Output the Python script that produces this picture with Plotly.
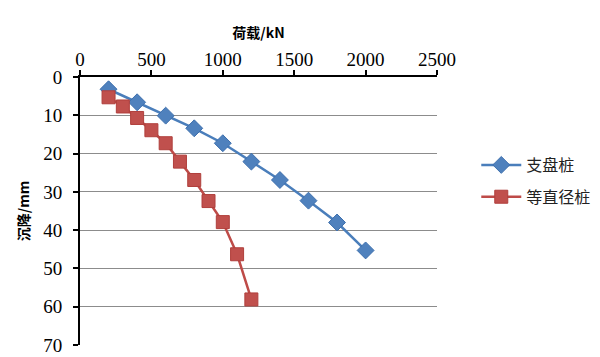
import plotly.graph_objects as go

load_a = [200, 400, 600, 800, 1000, 1200, 1400, 1600, 1800, 2000]
settle_a = [3.2, 6.6, 10.1, 13.4, 17.3, 22.1, 26.9, 32.3, 38.0, 45.3]
load_b = [200, 300, 400, 500, 600, 700, 800, 900, 1000, 1100, 1200]
settle_b = [5.3, 7.7, 10.7, 13.9, 17.3, 22.1, 26.9, 32.4, 37.9, 46.3, 58.1]
name_a = "支盘桩"
name_b = "等直径桩"
x_ticks = [0, 500, 1000, 1500, 2000, 2500]
y_ticks = [0, 10, 20, 30, 40, 50, 60, 70]

serif = "Liberation Serif"

fig = go.Figure()
fig.add_trace(go.Scatter(x=load_a, y=settle_a, name=name_a, mode="lines+markers",
                         legendgroup="a",
                         line=dict(color="#4A7EBB", width=2.5),
                         marker=dict(symbol="diamond", size=13, color="#4F81BD",
                                     line=dict(color="#3D6FAD", width=1))))
fig.add_trace(go.Scatter(x=load_b, y=settle_b, name=name_b, mode="lines+markers",
                         legendgroup="b",
                         line=dict(color="#BE4B48", width=2.5),
                         marker=dict(symbol="square", size=13, color="#C0504D",
                                     line=dict(color="#B03F3C", width=1))))

fig.update_layout(
    width=600, height=357,
    margin=dict(l=72, r=168, t=69, b=20),
    paper_bgcolor="white", plot_bgcolor="white",
    font=dict(family=serif, size=16, color="black"),
    legend=dict(x=1.11, y=0.735, xanchor="left", yanchor="top",
                font=dict(family="Noto Sans CJK SC", size=16, color="#222"),
                itemwidth=40, tracegroupgap=8, bgcolor="rgba(0,0,0,0)"),
    xaxis=dict(side="top", range=[0, 2500], tickvals=x_ticks, automargin=False,
               showgrid=False, zeroline=False,
               showline=True, linecolor="black", linewidth=2,
               ticks="outside", ticklen=5, tickwidth=2, tickcolor="black",
               ticklabelstandoff=-4,
               tickfont=dict(family=serif, size=19, color="black"),
               title=dict(text="<b>荷载/kN</b>", standoff=8,
                          font=dict(family="Noto Sans CJK SC", size=14))),
    yaxis=dict(range=[70, 0], tickvals=y_ticks, automargin=False,
               showgrid=True, gridcolor="#8C8C8C", gridwidth=1, zeroline=False,
               showline=True, linecolor="black", linewidth=2,
               ticks="outside", ticklen=5, tickwidth=2, tickcolor="black",
               ticklabelstandoff=7,
               tickfont=dict(family=serif, size=19, color="black"),
               title=dict(text="<b>沉降/mm</b>", standoff=10,
                          font=dict(family="Noto Sans CJK SC", size=14))),
)

fig.write_html("out.html")
